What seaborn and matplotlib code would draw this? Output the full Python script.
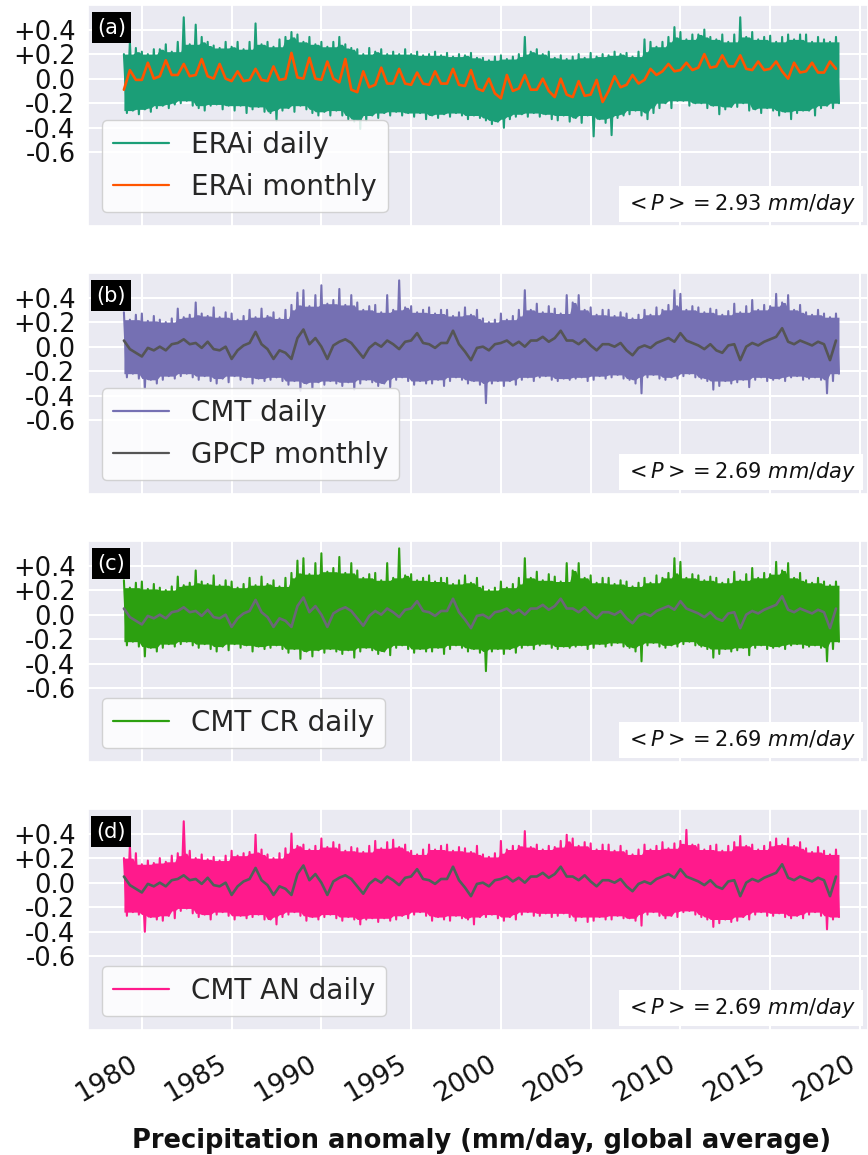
import numpy as np
import pandas as pd
import matplotlib
matplotlib.use("Agg")
import matplotlib.pyplot as plt
import seaborn as sns

# ---------------- data ----------------
# Values are sampled 3 times per year, starting 1979 (anomalies, mm/day).
START_YEAR = 1979
STEPS_PER_YEAR = 3

# (a) ERA-interim: upper / lower swings of the daily series and the monthly series
era_hi = [0.20, 0.30, 0.25, 0.22, 0.20, 0.24, 0.24, 0.28, 0.22, 0.30, 0.50, 0.28,
          0.44, 0.34, 0.30, 0.27, 0.25, 0.30, 0.26, 0.30, 0.24, 0.30, 0.45, 0.28,
          0.30, 0.26, 0.32, 0.34, 0.38, 0.36, 0.30, 0.34, 0.28, 0.30, 0.26, 0.30,
          0.34, 0.28, 0.25, 0.24, 0.20, 0.25, 0.22, 0.24, 0.20, 0.22, 0.20, 0.24,
          0.20, 0.22, 0.19, 0.20, 0.22, 0.19, 0.21, 0.18, 0.20, 0.19, 0.21, 0.17,
          0.17, 0.15, 0.18, 0.19, 0.16, 0.18, 0.20, 0.34, 0.22, 0.24, 0.20, 0.22,
          0.17, 0.19, 0.16, 0.18, 0.20, 0.17, 0.21, 0.18, 0.20, 0.19, 0.22, 0.20,
          0.21, 0.18, 0.22, 0.32, 0.30, 0.26, 0.30, 0.34, 0.42, 0.38, 0.32, 0.36,
          0.36, 0.40, 0.34, 0.32, 0.36, 0.30, 0.36, 0.50, 0.34, 0.38, 0.32, 0.34,
          0.35, 0.30, 0.34, 0.36, 0.32, 0.36, 0.36, 0.30, 0.34, 0.32, 0.30, 0.34]
era_lo = [-0.28, -0.26, -0.29, -0.25, -0.27, -0.24, -0.22, -0.24, -0.21, -0.20, -0.18, -0.22,
          -0.24, -0.26, -0.22, -0.21, -0.25, -0.22, -0.26, -0.22, -0.28, -0.25, -0.23, -0.27,
          -0.28, -0.34, -0.26, -0.24, -0.27, -0.22, -0.25, -0.28, -0.30, -0.27, -0.30, -0.26,
          -0.30, -0.33, -0.35, -0.41, -0.34, -0.30, -0.32, -0.28, -0.30, -0.27, -0.30, -0.28,
          -0.31, -0.28, -0.33, -0.30, -0.32, -0.29, -0.31, -0.28, -0.30, -0.33, -0.30, -0.32,
          -0.34, -0.37, -0.35, -0.40, -0.33, -0.31, -0.29, -0.31, -0.28, -0.31, -0.29, -0.33,
          -0.34, -0.30, -0.35, -0.32, -0.36, -0.30, -0.47, -0.33, -0.36, -0.46, -0.32, -0.30,
          -0.29, -0.26, -0.30, -0.33, -0.28, -0.24, -0.20, -0.24, -0.18, -0.18, -0.22, -0.20,
          -0.20, -0.24, -0.22, -0.29, -0.25, -0.23, -0.23, -0.20, -0.26, -0.25, -0.28, -0.24,
          -0.26, -0.30, -0.27, -0.33, -0.28, -0.26, -0.26, -0.30, -0.24, -0.22, -0.24, -0.20]
era_monthly = [-0.09, 0.07, -0.01, -0.01, 0.13, 0.00, 0.02, 0.15, 0.03, 0.03, 0.12, 0.02,
               0.03, 0.16, 0.02, 0.00, 0.12, 0.00, -0.02, 0.06, -0.02, -0.01, 0.08, -0.01,
               -0.02, 0.10, -0.01, 0.00, 0.21, 0.01, 0.00, 0.17, 0.00, -0.01, 0.14, 0.00,
               -0.03, 0.16, -0.09, -0.11, 0.06, -0.07, -0.05, 0.09, -0.04, -0.04, 0.08, -0.04,
               -0.05, 0.05, -0.04, -0.05, 0.06, -0.04, -0.04, 0.08, -0.05, -0.06, 0.07, -0.08,
               -0.10, 0.00, -0.12, -0.16, 0.03, -0.10, -0.08, 0.03, -0.09, -0.09, 0.00, -0.10,
               -0.15, 0.00, -0.13, -0.15, -0.02, -0.14, -0.13, -0.01, -0.19, -0.10, 0.02, -0.07,
               -0.05, 0.03, -0.04, -0.01, 0.08, 0.03, 0.06, 0.12, 0.06, 0.07, 0.13, 0.07,
               0.09, 0.20, 0.09, 0.10, 0.19, 0.10, 0.10, 0.19, 0.08, 0.07, 0.14, 0.07,
               0.08, 0.14, 0.06, 0.00, 0.13, 0.05, 0.06, 0.13, 0.05, 0.05, 0.14, 0.08]

# (b) CMT daily swings and GPCP monthly
cmt_hi = [0.28, 0.22, 0.26, 0.27, 0.21, 0.25, 0.22, 0.20, 0.23, 0.31, 0.24, 0.26,
          0.36, 0.27, 0.25, 0.32, 0.24, 0.28, 0.27, 0.22, 0.25, 0.30, 0.24, 0.31,
          0.25, 0.28, 0.23, 0.30, 0.34, 0.44, 0.46, 0.33, 0.42, 0.50, 0.35, 0.38,
          0.47, 0.34, 0.42, 0.36, 0.30, 0.33, 0.34, 0.28, 0.42, 0.30, 0.54, 0.32,
          0.33, 0.28, 0.30, 0.32, 0.27, 0.30, 0.30, 0.25, 0.28, 0.32, 0.26, 0.30,
          0.23, 0.20, 0.22, 0.27, 0.22, 0.25, 0.30, 0.46, 0.30, 0.35, 0.28, 0.33,
          0.31, 0.27, 0.42, 0.36, 0.42, 0.30, 0.32, 0.26, 0.30, 0.30, 0.25, 0.28,
          0.27, 0.23, 0.26, 0.30, 0.26, 0.32, 0.30, 0.34, 0.46, 0.43, 0.30, 0.33,
          0.32, 0.28, 0.31, 0.30, 0.26, 0.29, 0.35, 0.28, 0.33, 0.38, 0.30, 0.34,
          0.33, 0.43, 0.36, 0.42, 0.30, 0.34, 0.28, 0.26, 0.30, 0.27, 0.24, 0.27]
cmt_lo = [-0.25, -0.22, -0.26, -0.34, -0.27, -0.30, -0.27, -0.24, -0.26, -0.24, -0.22, -0.25,
          -0.27, -0.24, -0.28, -0.30, -0.26, -0.29, -0.24, -0.27, -0.25, -0.30, -0.26, -0.28,
          -0.27, -0.25, -0.28, -0.31, -0.28, -0.36, -0.30, -0.34, -0.29, -0.31, -0.28, -0.30,
          -0.32, -0.29, -0.35, -0.30, -0.27, -0.29, -0.32, -0.30, -0.33, -0.27, -0.25, -0.28,
          -0.31, -0.28, -0.30, -0.30, -0.27, -0.32, -0.28, -0.25, -0.27, -0.30, -0.28, -0.31,
          -0.46, -0.30, -0.28, -0.32, -0.28, -0.31, -0.27, -0.25, -0.28, -0.25, -0.24, -0.27,
          -0.28, -0.26, -0.27, -0.26, -0.25, -0.28, -0.27, -0.24, -0.26, -0.25, -0.23, -0.26,
          -0.27, -0.30, -0.38, -0.25, -0.23, -0.26, -0.27, -0.25, -0.26, -0.24, -0.22, -0.25,
          -0.26, -0.28, -0.35, -0.32, -0.28, -0.30, -0.29, -0.27, -0.33, -0.27, -0.25, -0.28,
          -0.27, -0.26, -0.28, -0.25, -0.24, -0.27, -0.26, -0.25, -0.27, -0.38, -0.28, -0.22]
gpcp_monthly = [0.05, -0.02, -0.05, -0.08, -0.01, -0.03, 0.00, -0.03, 0.02, 0.03, 0.06, 0.02,
                0.03, -0.01, 0.04, -0.02, -0.03, 0.00, -0.10, -0.03, 0.01, 0.03, 0.12, 0.02,
                -0.02, -0.10, -0.03, -0.05, -0.10, 0.07, 0.14, 0.02, 0.07, 0.00, -0.10, 0.01,
                0.04, 0.06, 0.03, -0.03, -0.09, -0.01, 0.03, 0.00, 0.05, 0.02, -0.02, 0.04,
                0.05, 0.11, 0.03, 0.02, -0.01, 0.03, 0.03, 0.13, 0.02, -0.04, -0.11, -0.01,
                0.00, -0.03, 0.02, 0.03, 0.05, 0.01, 0.04, 0.00, 0.05, 0.05, 0.08, 0.04,
                0.07, 0.13, 0.05, 0.05, 0.02, 0.06, 0.01, -0.03, 0.02, 0.02, 0.00, 0.03,
                -0.03, -0.07, -0.01, 0.01, -0.01, 0.03, 0.05, 0.07, 0.04, 0.11, 0.05, 0.03,
                0.01, -0.02, 0.02, -0.03, -0.05, 0.01, 0.02, -0.11, 0.00, 0.03, 0.01, 0.04,
                0.06, 0.08, 0.15, 0.04, 0.02, 0.05, 0.03, 0.01, 0.04, 0.02, -0.11, 0.05]

# (c) CMT CR daily swings (visually the same as CMT daily in the picture)
cr_hi = list(cmt_hi)
cr_lo = list(cmt_lo)

# (d) CMT AN daily swings
an_hi = [0.20, 0.30, 0.24, 0.15, 0.18, 0.16, 0.20, 0.17, 0.22, 0.24, 0.50, 0.26,
         0.20, 0.23, 0.19, 0.21, 0.18, 0.22, 0.26, 0.22, 0.24, 0.25, 0.39, 0.27,
         0.23, 0.20, 0.24, 0.28, 0.40, 0.30, 0.31, 0.27, 0.30, 0.36, 0.29, 0.33,
         0.31, 0.26, 0.29, 0.28, 0.25, 0.30, 0.34, 0.28, 0.33, 0.35, 0.29, 0.31,
         0.26, 0.23, 0.27, 0.31, 0.27, 0.30, 0.31, 0.26, 0.29, 0.28, 0.25, 0.30,
         0.23, 0.21, 0.24, 0.34, 0.27, 0.30, 0.30, 0.42, 0.29, 0.31, 0.27, 0.30,
         0.29, 0.34, 0.39, 0.36, 0.30, 0.33, 0.32, 0.27, 0.31, 0.31, 0.26, 0.30,
         0.26, 0.23, 0.27, 0.31, 0.27, 0.30, 0.33, 0.28, 0.32, 0.34, 0.43, 0.31,
         0.31, 0.27, 0.30, 0.31, 0.26, 0.30, 0.33, 0.38, 0.30, 0.31, 0.27, 0.30,
         0.33, 0.36, 0.31, 0.36, 0.30, 0.33, 0.28, 0.25, 0.29, 0.26, 0.23, 0.27]
an_lo = [-0.27, -0.24, -0.26, -0.40, -0.28, -0.30, -0.31, -0.27, -0.29, -0.23, -0.21, -0.25,
         -0.28, -0.26, -0.30, -0.26, -0.24, -0.27, -0.30, -0.27, -0.29, -0.28, -0.26, -0.30,
         -0.30, -0.34, -0.28, -0.26, -0.24, -0.27, -0.31, -0.28, -0.30, -0.28, -0.26, -0.29,
         -0.31, -0.28, -0.30, -0.34, -0.30, -0.29, -0.32, -0.29, -0.31, -0.30, -0.27, -0.29,
         -0.26, -0.24, -0.27, -0.31, -0.28, -0.30, -0.31, -0.27, -0.29, -0.30, -0.34, -0.28,
         -0.28, -0.26, -0.29, -0.31, -0.28, -0.30, -0.26, -0.24, -0.27, -0.27, -0.25, -0.28,
         -0.27, -0.25, -0.28, -0.31, -0.28, -0.32, -0.31, -0.28, -0.30, -0.30, -0.27, -0.29,
         -0.29, -0.31, -0.35, -0.26, -0.24, -0.27, -0.29, -0.27, -0.28, -0.24, -0.23, -0.26,
         -0.28, -0.30, -0.36, -0.33, -0.30, -0.32, -0.31, -0.28, -0.30, -0.26, -0.24, -0.27,
         -0.27, -0.25, -0.28, -0.29, -0.27, -0.29, -0.26, -0.24, -0.27, -0.38, -0.30, -0.28]

panel_tags = ["(a)", "(b)", "(c)", "(d)"]
daily_labels = ["ERAi daily", "CMT daily", "CMT CR daily", "CMT AN daily"]
monthly_labels = ["ERAi monthly", "GPCP monthly", None, None]
mean_precip = [2.93, 2.69, 2.69, 2.69]
year_ticks = [1980, 1985, 1990, 1995, 2000, 2005, 2010, 2015, 2020]
y_ticks = [0.4, 0.2, 0.0, -0.2, -0.4, -0.6]
y_ticklabels = ["+0.4", "+0.2", "0.0", "-0.2", "-0.4", "-0.6"]
xlabel = "Precipitation anomaly (mm/day, global average)"

daily_colors = ["#1b9e77", "#7570b3", "#2ca010", "#ff1a8c"]
monthly_colors = ["#ff5500", "#555555", "#6b6777", "#4d6359"]


def daily_frame(hi, lo):
    n = len(hi)
    t = START_YEAR + np.arange(n) / STEPS_PER_YEAR
    years = np.empty(2 * n)
    vals = np.empty(2 * n)
    years[0::2] = t
    years[1::2] = t + 0.5 / STEPS_PER_YEAR
    vals[0::2] = hi
    vals[1::2] = lo
    return pd.DataFrame({"year": years, "anom": vals})


def core_frame(hi, lo):
    # solid body of the daily trace: the band that the swings always cross
    d = daily_frame(hi, lo)
    top = pd.Series(hi).rolling(3, center=True, min_periods=1).min().to_numpy()
    bot = pd.Series(lo).rolling(3, center=True, min_periods=1).max().to_numpy()
    yrs = d["year"].to_numpy()
    return yrs, np.repeat(top, 2), np.repeat(bot, 2)


def monthly_frame(values):
    n = len(values)
    return pd.DataFrame({"year": START_YEAR + np.arange(n) / STEPS_PER_YEAR,
                         "anom": values})


daily_sets = [(era_hi, era_lo), (cmt_hi, cmt_lo), (cr_hi, cr_lo), (an_hi, an_lo)]
monthly_sets = [era_monthly, gpcp_monthly, gpcp_monthly, gpcp_monthly]

# ---------------- figure ----------------
sns.set_theme(style="darkgrid")
plt.rcParams["font.family"] = ["DejaVu Sans"]
plt.rcParams["mathtext.fontset"] = "dejavusans"

W, H = 868, 1155
fig = plt.figure(figsize=(W / 100, H / 100), dpi=100)

ax_left, ax_right = 88, 868
ax_h = 221
tops = [5, 273, 541, 809]

for i in range(4):
    top = tops[i]
    ax = fig.add_axes([ax_left / W, 1 - (top + ax_h) / H,
                       (ax_right - ax_left) / W, ax_h / H])
    hi, lo = daily_sets[i]
    d = daily_frame(hi, lo)
    m = monthly_frame(monthly_sets[i])
    cy, ct, cb = core_frame(hi, lo)
    ax.fill_between(cy, cb, ct, color=daily_colors[i], lw=0, zorder=1.5)
    sns.lineplot(data=d, x="year", y="anom", ax=ax, color=daily_colors[i],
                 lw=1.5, label=daily_labels[i], sort=False, estimator=None)
    sns.lineplot(data=m, x="year", y="anom", ax=ax, color=monthly_colors[i],
                 lw=1.9, label=monthly_labels[i] if monthly_labels[i] else "_nolegend_",
                 sort=False, estimator=None)

    ax.set_xlim(1977.0, 2020.45)
    ax.set_ylim(-1.2, 0.6)
    ax.set_xticks(year_ticks)
    ax.set_yticks(y_ticks)
    ax.set_yticklabels(y_ticklabels, fontsize=18.5)
    ax.tick_params(axis="y", length=0, pad=9, labelcolor="#111111")
    ax.grid(True, color="white", lw=1.5)
    ax.set_ylabel("")
    if i < 3:
        ax.set_xticklabels([])
        ax.set_xlabel("")
        ax.tick_params(axis="x", length=0)
    else:
        ax.set_xticklabels([str(y) for y in year_ticks], fontsize=19,
                           rotation=30, ha="right")
        ax.tick_params(axis="x", length=0, pad=15, labelcolor="#111111")
        ax.set_xlabel(xlabel, fontsize=18.5, fontweight="bold", color="#111111")
        ax.xaxis.set_label_coords(0.504, -0.445)

    leg = ax.legend(loc="lower left", fontsize=20, frameon=True,
                    framealpha=0.85, facecolor="white", edgecolor="#cccccc")
    for line in leg.get_lines():
        line.set_linewidth(1.6)

    ax.text(0.03, 0.898, panel_tags[i], transform=ax.transAxes,
            ha="center", va="center", fontsize=15, color="white",
            bbox=dict(boxstyle="square,pad=0.25", fc="black", ec="none"))
    ax.text(0.985, 0.045, r"$<P> = %.2f\ mm/day$" % mean_precip[i],
            transform=ax.transAxes, ha="right", va="bottom", fontsize=15,
            color="#111111",
            bbox=dict(boxstyle="square,pad=0.3", fc="white", ec="none"))

fig.savefig("out.png", dpi=100)
